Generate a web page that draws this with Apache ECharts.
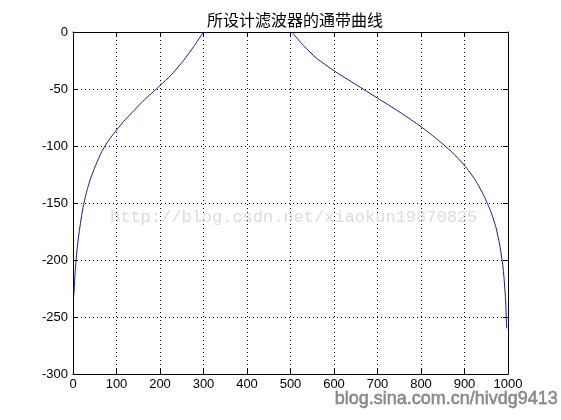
<!DOCTYPE html>
<html>
<head>
<meta charset="utf-8">
<script src="https://cdn.jsdelivr.net/npm/echarts@6/dist/echarts.min.js"></script>
<style>html,body{margin:0;padding:0;background:#fff}#c{width:561px;height:420px}</style>
</head>
<body>
<div id="c"></div>
<script>
var titleText = '所设计滤波器的通带曲线';
var xTicks = [0,100,200,300,400,500,600,700,800,900,1000];
var yTicks = [-300,-250,-200,-150,-100,-50,0];
var leftX = [2,5,8,12,17,23,30,40,52,66,82,100,120,140,160,180,200,225,254,277,300];
var leftY = [-231,-210,-196,-182,-168,-154,-142,-129,-117,-105,-95,-86,-77,-69,-61,-54,-47,-38,-25,-13,0];
var rightX = [503,530,560,600,650,700,750,800,840,870,900,925,945,960,972,982,989,994,997];
var rightY = [0,-12,-23,-34,-46,-58,-70,-83,-95,-105,-117,-130,-144,-157,-171,-189,-208,-232,-260];

var data = [];
for (var i = 0; i < leftX.length; i++) data.push([leftX[i], leftY[i]]);
data.push([400, null]);
for (var j = 0; j < rightX.length; j++) data.push([rightX[j], rightY[j]]);

var chart = echarts.init(document.getElementById('c'), null, {renderer: 'canvas'});
var lbl = {color: '#000', fontSize: 13, fontFamily: 'Liberation Sans, Arial, sans-serif',
  formatter: function (v) { return String(v); }};
var axisLine = {show: true, onZero: false, lineStyle: {color: '#000', width: 1}};
var tick = {show: true, inside: true, length: 5, lineStyle: {color: '#000'}};
var grid = {show: true, lineStyle: {color: '#000', type: [1, 3], width: 1}};
chart.setOption({
  animation: false,
  backgroundColor: '#fff',
  title: {text: titleText, left: 290, textAlign: 'center', top: 7,
    textStyle: {fontSize: 16, fontWeight: 'normal', color: '#000', fontFamily: 'Noto Sans CJK SC'}},
  grid: {left: 73, right: 53, top: 32, bottom: 46, containLabel: false},
  xAxis: [
    {type: 'value', min: 0, max: 1000, interval: 100, position: 'bottom',
     axisLine: axisLine, axisTick: tick, splitLine: grid,
     axisLabel: Object.assign({margin: 4}, lbl)},
    {type: 'value', min: 0, max: 1000, interval: 100, position: 'top',
     axisLine: axisLine, axisTick: tick, splitLine: {show: false}, axisLabel: {show: false}}
  ],
  yAxis: [
    {type: 'value', min: -300, max: 0, interval: 50, position: 'left',
     axisLine: axisLine, axisTick: tick, splitLine: grid,
     axisLabel: Object.assign({margin: 5}, lbl)},
    {type: 'value', min: -300, max: 0, interval: 50, position: 'right',
     axisLine: axisLine, axisTick: tick, splitLine: {show: false}, axisLabel: {show: false}}
  ],
  graphic: [
    {type: 'text', left: 110, top: 209, silent: true, z: 1,
     style: {text: 'http://blog.csdn.net/xiaokun19870825', fill: '#dcdcdc',
       font: '17px "Liberation Mono", monospace'}},
    {type: 'text', right: 3, top: 390, silent: true,
     style: {text: 'blog.sina.com.cn/hivdg9413', fill: '#8a8a8a', stroke: '#555', lineWidth: 0.4,
       font: '18px "Liberation Sans", Arial, sans-serif'}}
  ],
  series: [{
    type: 'line', xAxisIndex: 0, yAxisIndex: 0, data: data,
    showSymbol: false, symbol: 'none', connectNulls: false, clip: true,
    smooth: 0.2,
    lineStyle: {color: '#101c80', width: 1}
  }]
});
</script>
</body>
</html>
